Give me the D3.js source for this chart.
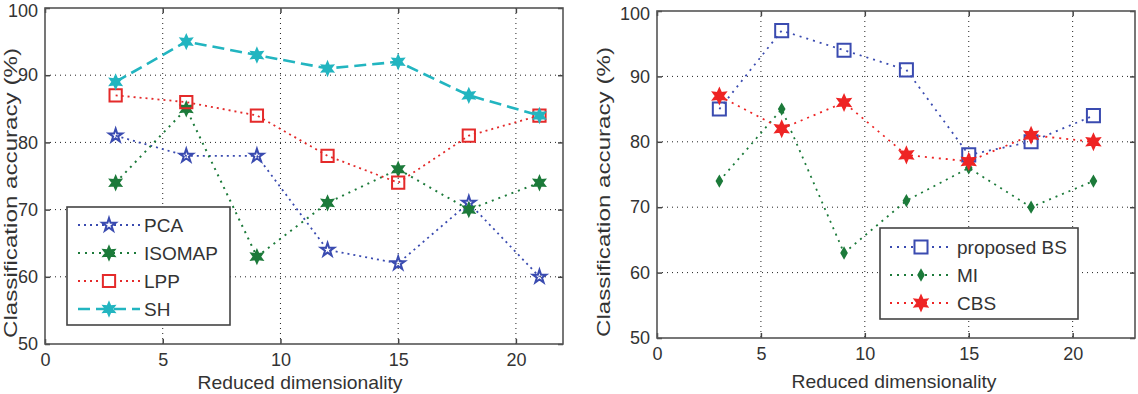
<!DOCTYPE html>
<html>
<head>
<meta charset="utf-8">
<script src="https://cdn.jsdelivr.net/npm/d3@7"></script>
<style>
  body { margin: 0; background: #fff; }
  text { font-family: "Liberation Sans", Arial, sans-serif; fill: #333; }
</style>
</head>
<body>
<div id="chart"></div>
<script>
// shared x positions (reduced dimensionality)
const dims = [3, 6, 9, 12, 15, 18, 21];
const xTicks = [0, 5, 10, 15, 20];
const yTicks = [50, 60, 70, 80, 90, 100];

// left panel series
const pca = [81, 78, 78, 64, 62, 71, 60];
const isomap = [74, 85, 63, 71, 76, 70, 74];
const lpp = [87, 86, 84, 78, 74, 81, 84];
const sh = [89, 95, 93, 91, 92, 87, 84];

// right panel series
const proposedBS = [85, 97, 94, 91, 78, 80, 84];
const mi = [74, 85, 63, 71, 76, 70, 74];
const cbs = [87, 82, 86, 78, 77, 81, 80];

const svg = d3.select('#chart').append('svg')
  .attr('width', 1138).attr('height', 394);

const panels = [
  {
    left: 45, top: 8, right: 563, bottom: 344, xMax: 22,
    ylab: { x: 10, y: 193 }, xlab: { x: 300, y: 389 },
    legend: { x: 67, y: 207, w: 163, h: 118, rowH: 28, first: 18, lineX: [78, 140], textX: 144 },
    series: [
      { name: 'PCA', values: pca, color: '#3a4bb0', dash: '2,4', width: 1.8, marker: 'pentagram', size: 55, fill: 'none' },
      { name: 'ISOMAP', values: isomap, color: '#1c7a3a', dash: '2,5', width: 2, marker: 'hexagram', size: 100, fill: '#1c7a3a' },
      { name: 'LPP', values: lpp, color: '#e42a2a', dash: '2,4', width: 1.8, marker: 'square', size: 150, fill: 'none' },
      { name: 'SH', values: sh, color: '#22b5c0', dash: '12,6', width: 2.6, marker: 'hexagram', size: 100, fill: '#22b5c0' }
    ]
  },
  {
    left: 657, top: 11, right: 1135, bottom: 338, xMax: 23,
    ylab: { x: 603, y: 192 }, xlab: { x: 894, y: 388 },
    legend: { x: 880, y: 228, w: 198, h: 91, rowH: 28, first: 19, lineX: [890, 952], textX: 957 },
    series: [
      { name: 'proposed BS', values: proposedBS, color: '#3a4bb0', dash: '2,5', width: 1.8, marker: 'square', size: 170, fill: 'none' },
      { name: 'MI', values: mi, color: '#1c7a3a', dash: '2,5', width: 1.8, marker: 'diamond', size: 25, fill: '#1c7a3a' },
      { name: 'CBS', values: cbs, color: '#ee2424', dash: '2,5', width: 1.8, marker: 'hexagram', size: 130, fill: '#ee2424' }
    ]
  }
];

function markerPath(type, size) {
  if (type === 'square') return d3.symbol(d3.symbolSquare, size)();
  if (type === 'diamond') return d3.symbol(d3.symbolDiamond, size)();
  if (type === 'pentagram') return d3.symbol(d3.symbolStar, size)();
  // six-pointed star drawn from radius
  const r = Math.sqrt(size) * 0.62, ri = r * 0.5;
  const pts = [];
  for (let i = 0; i < 12; i++) {
    const a = Math.PI / 6 * i - Math.PI / 2;
    const rr = i % 2 ? ri : r;
    pts.push([rr * Math.cos(a), rr * Math.sin(a)]);
  }
  return 'M' + pts.map(p => p.join(',')).join('L') + 'Z';
}

panels.forEach(p => {
  const x = d3.scaleLinear().domain([0, p.xMax]).range([p.left, p.right]);
  const y = d3.scaleLinear().domain([50, 100]).range([p.bottom, p.top]);
  const g = svg.append('g');

  // grid
  g.selectAll('.gx').data(xTicks.filter(t => t > 0)).join('line')
    .attr('x1', d => x(d)).attr('x2', d => x(d))
    .attr('y1', p.top).attr('y2', p.bottom)
    .attr('stroke', '#222').attr('stroke-width', 1).attr('stroke-dasharray', '1,4');
  g.selectAll('.gy').data(yTicks.filter(t => t > 50 && t < 100)).join('line')
    .attr('x1', p.left).attr('x2', p.right)
    .attr('y1', d => y(d)).attr('y2', d => y(d))
    .attr('stroke', '#222').attr('stroke-width', 1).attr('stroke-dasharray', '1,4');

  // axes, ticks inward like matlab
  const xAxis = d3.axisBottom(x).tickValues(xTicks).tickSize(-5).tickPadding(9).tickFormat(d3.format('d'));
  const yAxis = d3.axisLeft(y).tickValues(yTicks).tickSize(-5).tickPadding(7).tickFormat(d3.format('d'));
  g.append('g').attr('transform', `translate(0,${p.bottom})`).call(xAxis);
  const ya = g.append('g').attr('transform', `translate(${p.left},0)`).call(yAxis);
  g.append('g').attr('transform', `translate(0,${p.top})`)
    .call(d3.axisTop(x).tickValues(xTicks).tickSize(-5).tickFormat(''));
  g.append('g').attr('transform', `translate(${p.right},0)`)
    .call(d3.axisRight(y).tickValues(yTicks).tickSize(-5).tickFormat(''));
  g.selectAll('.domain').remove();
  g.selectAll('.tick line').attr('stroke', '#444').attr('stroke-width', 1.5);
  g.selectAll('.tick text').attr('font-size', 18).attr('fill', '#333')
    .style('font-family', '"Liberation Sans", Arial, sans-serif');
  // keep the top "100" label inside the picture
  ya.selectAll('.tick text').filter(d => d === 100).attr('dy', '0.45em');
  g.append('rect')
    .attr('x', p.left).attr('y', p.top)
    .attr('width', p.right - p.left).attr('height', p.bottom - p.top)
    .attr('fill', 'none').attr('stroke', '#555').attr('stroke-width', 1.6);

  // axis labels
  g.append('text')
    .attr('x', p.xlab.x).attr('y', p.xlab.y)
    .attr('text-anchor', 'middle').attr('font-size', 19)
    .attr('textLength', 205).attr('lengthAdjust', 'spacingAndGlyphs')
    .text('Reduced dimensionality');
  g.append('text')
    .attr('transform', `translate(${p.ylab.x},${p.ylab.y}) rotate(-90)`)
    .attr('text-anchor', 'middle').attr('dy', '0.35em').attr('font-size', 19)
    .attr('textLength', 290).attr('lengthAdjust', 'spacingAndGlyphs')
    .text('Classification accuracy (%)');

  // series
  const line = d3.line().x((d, i) => x(dims[i])).y(d => y(d));
  p.series.forEach(s => {
    g.append('path').datum(s.values)
      .attr('d', line).attr('fill', 'none')
      .attr('stroke', s.color).attr('stroke-width', s.width)
      .attr('stroke-dasharray', s.dash);
    g.selectAll(null).data(s.values).join('path')
      .attr('transform', (d, i) => `translate(${x(dims[i])},${y(d)})`)
      .attr('d', markerPath(s.marker, s.size))
      .attr('fill', s.fill).attr('stroke', s.color).attr('stroke-width', 2);
  });

  // legend
  const L = p.legend;
  const lg = g.append('g');
  lg.append('rect').attr('x', L.x).attr('y', L.y).attr('width', L.w).attr('height', L.h)
    .attr('fill', '#fff').attr('stroke', '#444').attr('stroke-width', 1.6);
  p.series.forEach((s, i) => {
    const cy = L.y + L.first + i * L.rowH;
    const mx = (L.lineX[0] + L.lineX[1]) / 2;
    lg.append('line').attr('x1', L.lineX[0]).attr('x2', L.lineX[1])
      .attr('y1', cy).attr('y2', cy)
      .attr('stroke', s.color).attr('stroke-width', s.width)
      .attr('stroke-dasharray', s.dash);
    lg.append('path').attr('transform', `translate(${mx},${cy})`)
      .attr('d', markerPath(s.marker, s.size))
      .attr('fill', s.fill === 'none' ? '#fff' : s.fill)
      .attr('stroke', s.color).attr('stroke-width', 2);
    lg.append('text').attr('x', L.textX).attr('y', cy).attr('dy', '0.35em')
      .attr('font-size', 19).text(s.name);
  });
});
</script>
</body>
</html>
